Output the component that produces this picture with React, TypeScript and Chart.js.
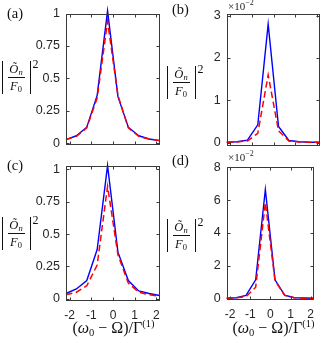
import React, { useEffect, useRef } from 'react';
import { Chart, registerables } from 'chart.js';

Chart.register(...registerables);

// ---- data ----
const xValues = [-2.17, -1.69, -1.21, -0.73, -0.25, 0.23, 0.71, 1.19, 1.67, 2.15];
const xTicks = [-2, -1, 0, 1, 2];

const blueA = [0.03, 0.059, 0.125, 0.37, 1.02, 0.36, 0.125, 0.059, 0.034, 0.022];
const redA = [0.03, 0.055, 0.12, 0.35, 0.94, 0.37, 0.12, 0.055, 0.034, 0.022];
const blueB = [0.01, 0.02, 0.06, 0.42, 2.8, 0.38, 0.05, 0.02, 0.01, 0.01];
const redB = [0.01, 0.015, 0.04, 0.22, 1.6, 0.28, 0.04, 0.015, 0.01, 0.01];
const blueC = [0.04, 0.075, 0.14, 0.38, 1.03, 0.36, 0.14, 0.06, 0.04, 0.025];
const redC = [0.03, 0.05, 0.1, 0.26, 0.87, 0.34, 0.12, 0.05, 0.03, 0.02];
const blueD = [0.03, 0.06, 0.2, 1.15, 6.65, 1.15, 0.22, 0.06, 0.04, 0.03];
const redD = [0.02, 0.05, 0.12, 0.7, 5.85, 1.1, 0.2, 0.06, 0.03, 0.02];

const yTicksAC = [0, 0.25, 0.5, 0.75, 1];
const yLabelsAC = ['0', '0.25', '0.5', '0.75', '1'];
const yTicksB = [0, 1, 2, 3];
const yLabelsB = ['0', '1', '2', '3'];
const yTicksD = [0, 2, 4, 6, 8];
const yLabelsD = ['0', '2', '4', '6', '8'];

const panelLetters = ['(a)', '(b)', '(c)', '(d)'];

// ---- layout ----
const W = 321;
const H = 343;
const Y_W = 40;
const SERIF = '"Liberation Serif", "DejaVu Serif", serif';
const SANS = '"Liberation Sans", Arial, sans-serif';

type Box = { l: number; r: number; t: number; b: number };
type PanelCfg = {
  blue: number[];
  red: number[];
  box: Box;
  yMin: number;
  yMax: number;
  yTicks: number[];
  yLabels: string[];
  showX: boolean;
};

const panels: PanelCfg[] = [
  { blue: blueA, red: redA, box: { l: 66, r: 159.5, t: 11, b: 145 }, yMin: -0.012, yMax: 1.0, yTicks: yTicksAC, yLabels: yLabelsAC, showX: false },
  { blue: blueB, red: redB, box: { l: 226.7, r: 320, t: 14, b: 146 }, yMin: -0.08, yMax: 3.04, yTicks: yTicksB, yLabels: yLabelsB, showX: false },
  { blue: blueC, red: redC, box: { l: 66, r: 159.5, t: 166, b: 301 }, yMin: -0.018, yMax: 1.027, yTicks: yTicksAC, yLabels: yLabelsAC, showX: true },
  { blue: blueD, red: redD, box: { l: 226.7, r: 320, t: 167, b: 300 }, yMin: -0.08, yMax: 8.02, yTicks: yTicksD, yLabels: yLabelsD, showX: true },
];

const boxPlugin = {
  id: 'matlabBox',
  afterDraw(chart: any) {
    const { ctx, chartArea: a, scales } = chart;
    const l = Math.round(a.left) + 0.5;
    const r = Math.round(a.right) - 0.5;
    const t = Math.round(a.top) + 0.5;
    const b = Math.round(a.bottom) - 0.5;
    ctx.save();
    ctx.strokeStyle = '#3a3a3a';
    ctx.lineWidth = 1;
    ctx.strokeRect(l, t, r - l, b - t);
    const len = 3;
    ctx.beginPath();
    for (const tk of scales.x.ticks) {
      const px = Math.round(scales.x.getPixelForValue(tk.value)) + 0.5;
      ctx.moveTo(px, b);
      ctx.lineTo(px, b - len);
      ctx.moveTo(px, t);
      ctx.lineTo(px, t + len);
    }
    for (const tk of scales.y.ticks) {
      const py = Math.round(scales.y.getPixelForValue(tk.value)) + 0.5;
      ctx.moveTo(l, py);
      ctx.lineTo(l + len, py);
      ctx.moveTo(r, py);
      ctx.lineTo(r - len, py);
    }
    ctx.stroke();
    ctx.restore();
  },
};

function makeChart(canvas: HTMLCanvasElement, p: PanelCfg) {
  const xH = p.showX ? 22 : 0;
  return new Chart(canvas, {
    type: 'line',
    data: {
      datasets: [
        {
          data: xValues.map((x, i) => ({ x, y: p.red[i] })),
          borderColor: '#ff0000',
          borderWidth: 1.5,
          borderDash: [6.5, 3.5],
          pointRadius: 0,
          tension: 0,
          fill: false,
          clip: false as any,
        },
        {
          data: xValues.map((x, i) => ({ x, y: p.blue[i] })),
          borderColor: '#0000ff',
          borderWidth: 1.4,
          pointRadius: 0,
          tension: 0,
          fill: false,
          clip: false as any,
        },
      ],
    },
    options: {
      responsive: false,
      animation: false,
      devicePixelRatio: 1,
      events: [],
      layout: {
        padding: {
          left: p.box.l - Y_W,
          right: W - p.box.r,
          top: p.box.t,
          bottom: H - p.box.b - xH,
        },
      },
      plugins: { legend: { display: false }, tooltip: { enabled: false } },
      scales: {
        x: {
          type: 'linear',
          min: xValues[0],
          max: xValues[xValues.length - 1],
          grid: { display: false, drawTicks: false },
          border: { display: false },
          afterBuildTicks: (s: any) => {
            s.ticks = xTicks.map((v) => ({ value: v }));
          },
          afterFit: (s: any) => {
            s.height = xH;
          },
          ticks: {
            display: p.showX,
            padding: 7,
            autoSkip: false,
            maxRotation: 0,
            color: '#262626',
            font: { family: SANS, size: 12 },
            callback: (v: any) => String(v),
          },
        },
        y: {
          type: 'linear',
          min: p.yMin,
          max: p.yMax,
          grid: { display: false, drawTicks: false },
          border: { display: false },
          afterBuildTicks: (s: any) => {
            s.ticks = p.yTicks.map((v) => ({ value: v }));
          },
          afterFit: (s: any) => {
            s.width = Y_W;
          },
          ticks: {
            padding: 6,
            autoSkip: false,
            color: '#262626',
            font: { family: SANS, size: 12.5 },
            callback: (v: any) => {
              const i = p.yTicks.indexOf(v);
              return i >= 0 ? p.yLabels[i] : '';
            },
          },
        },
      },
    },
    plugins: [boxPlugin],
  } as any);
}

function YLabel({ left, cy }: { left: number; cy: number }) {
  const bar = (x: number) => (
    <div style={{ position: 'absolute', left: left + x, top: cy - 17, width: 0, height: 33, borderLeft: '1px solid #111' }} />
  );
  return (
    <>
      {bar(0)}
      {bar(28)}
      <div style={{ position: 'absolute', left: left + 2, width: 24, top: cy - 16, height: 15, lineHeight: '15px', textAlign: 'center', fontFamily: SERIF, fontSize: 12.5, fontStyle: 'italic', color: '#111' }}>
        Õ<span style={{ fontSize: 8.5, position: 'relative', top: 2 }}>n</span>
      </div>
      <div style={{ position: 'absolute', left: left + 6, width: 17, top: cy - 1, height: 0, borderTop: '1px solid #111' }} />
      <div style={{ position: 'absolute', left: left + 2, width: 24, top: cy + 1, height: 15, lineHeight: '15px', textAlign: 'center', fontFamily: SERIF, fontSize: 12.5, fontStyle: 'italic', color: '#111' }}>
        F<span style={{ fontSize: 8.5, position: 'relative', top: 2, fontStyle: 'normal' }}>0</span>
      </div>
      <div style={{ position: 'absolute', left: left + 30.5, top: cy - 20, lineHeight: '13px', fontFamily: SERIF, fontSize: 12, color: '#111' }}>2</div>
    </>
  );
}

function Exponent({ left, baseline }: { left: number; baseline: number }) {
  return (
    <div style={{ position: 'absolute', left, top: baseline - 10, lineHeight: '12px', height: 12, fontFamily: SERIF, fontSize: 11, color: '#262626', whiteSpace: 'nowrap' }}>
      ×10<span style={{ fontSize: 8, position: 'relative', top: -5 }}>−2</span>
    </div>
  );
}

function XLabel({ cx }: { cx: number }) {
  return (
    <div style={{ position: 'absolute', left: cx - 70, width: 140, top: 319, lineHeight: '18px', textAlign: 'center', fontFamily: SERIF, fontSize: 16, color: '#111', whiteSpace: 'nowrap' }}>
      (<i>ω</i><span style={{ fontSize: 10.5, position: 'relative', top: 3 }}>0</span> − Ω)/Γ
      <span style={{ fontSize: 10.5, position: 'relative', top: -6 }}>(1)</span>
    </div>
  );
}

function Letter({ text, left, cy }: { text: string; left: number; cy: number }) {
  return (
    <div style={{ position: 'absolute', left, top: cy - 9, lineHeight: '18px', fontFamily: SERIF, fontSize: 14.5, color: '#111' }}>{text}</div>
  );
}

export default function App() {
  const refs = [useRef<HTMLCanvasElement>(null), useRef<HTMLCanvasElement>(null), useRef<HTMLCanvasElement>(null), useRef<HTMLCanvasElement>(null)];
  useEffect(() => {
    const charts = panels.map((p, i) => makeChart(refs[i].current as HTMLCanvasElement, p));
    return () => charts.forEach((c) => c.destroy());
  }, []);
  return (
    <div style={{ position: 'fixed', left: 0, top: 0, width: W, height: H, background: '#fff', overflow: 'hidden' }}>
      {panels.map((_, i) => (
        <canvas key={i} ref={refs[i]} width={W} height={H} style={{ position: 'absolute', left: 0, top: 0, width: W, height: H }} />
      ))}
      <Letter text={panelLetters[0]} left={7} cy={12.5} />
      <Letter text={panelLetters[1]} left={172} cy={9} />
      <Letter text={panelLetters[2]} left={7} cy={165} />
      <Letter text={panelLetters[3]} left={172} cy={160} />
      <YLabel left={2} cy={78} />
      <YLabel left={167} cy={83} />
      <YLabel left={2} cy={234} />
      <YLabel left={167} cy={236} />
      <Exponent left={228} baseline={10} />
      <Exponent left={228} baseline={161} />
      <XLabel cx={113.5} />
      <XLabel cx={273.5} />
    </div>
  );
}
